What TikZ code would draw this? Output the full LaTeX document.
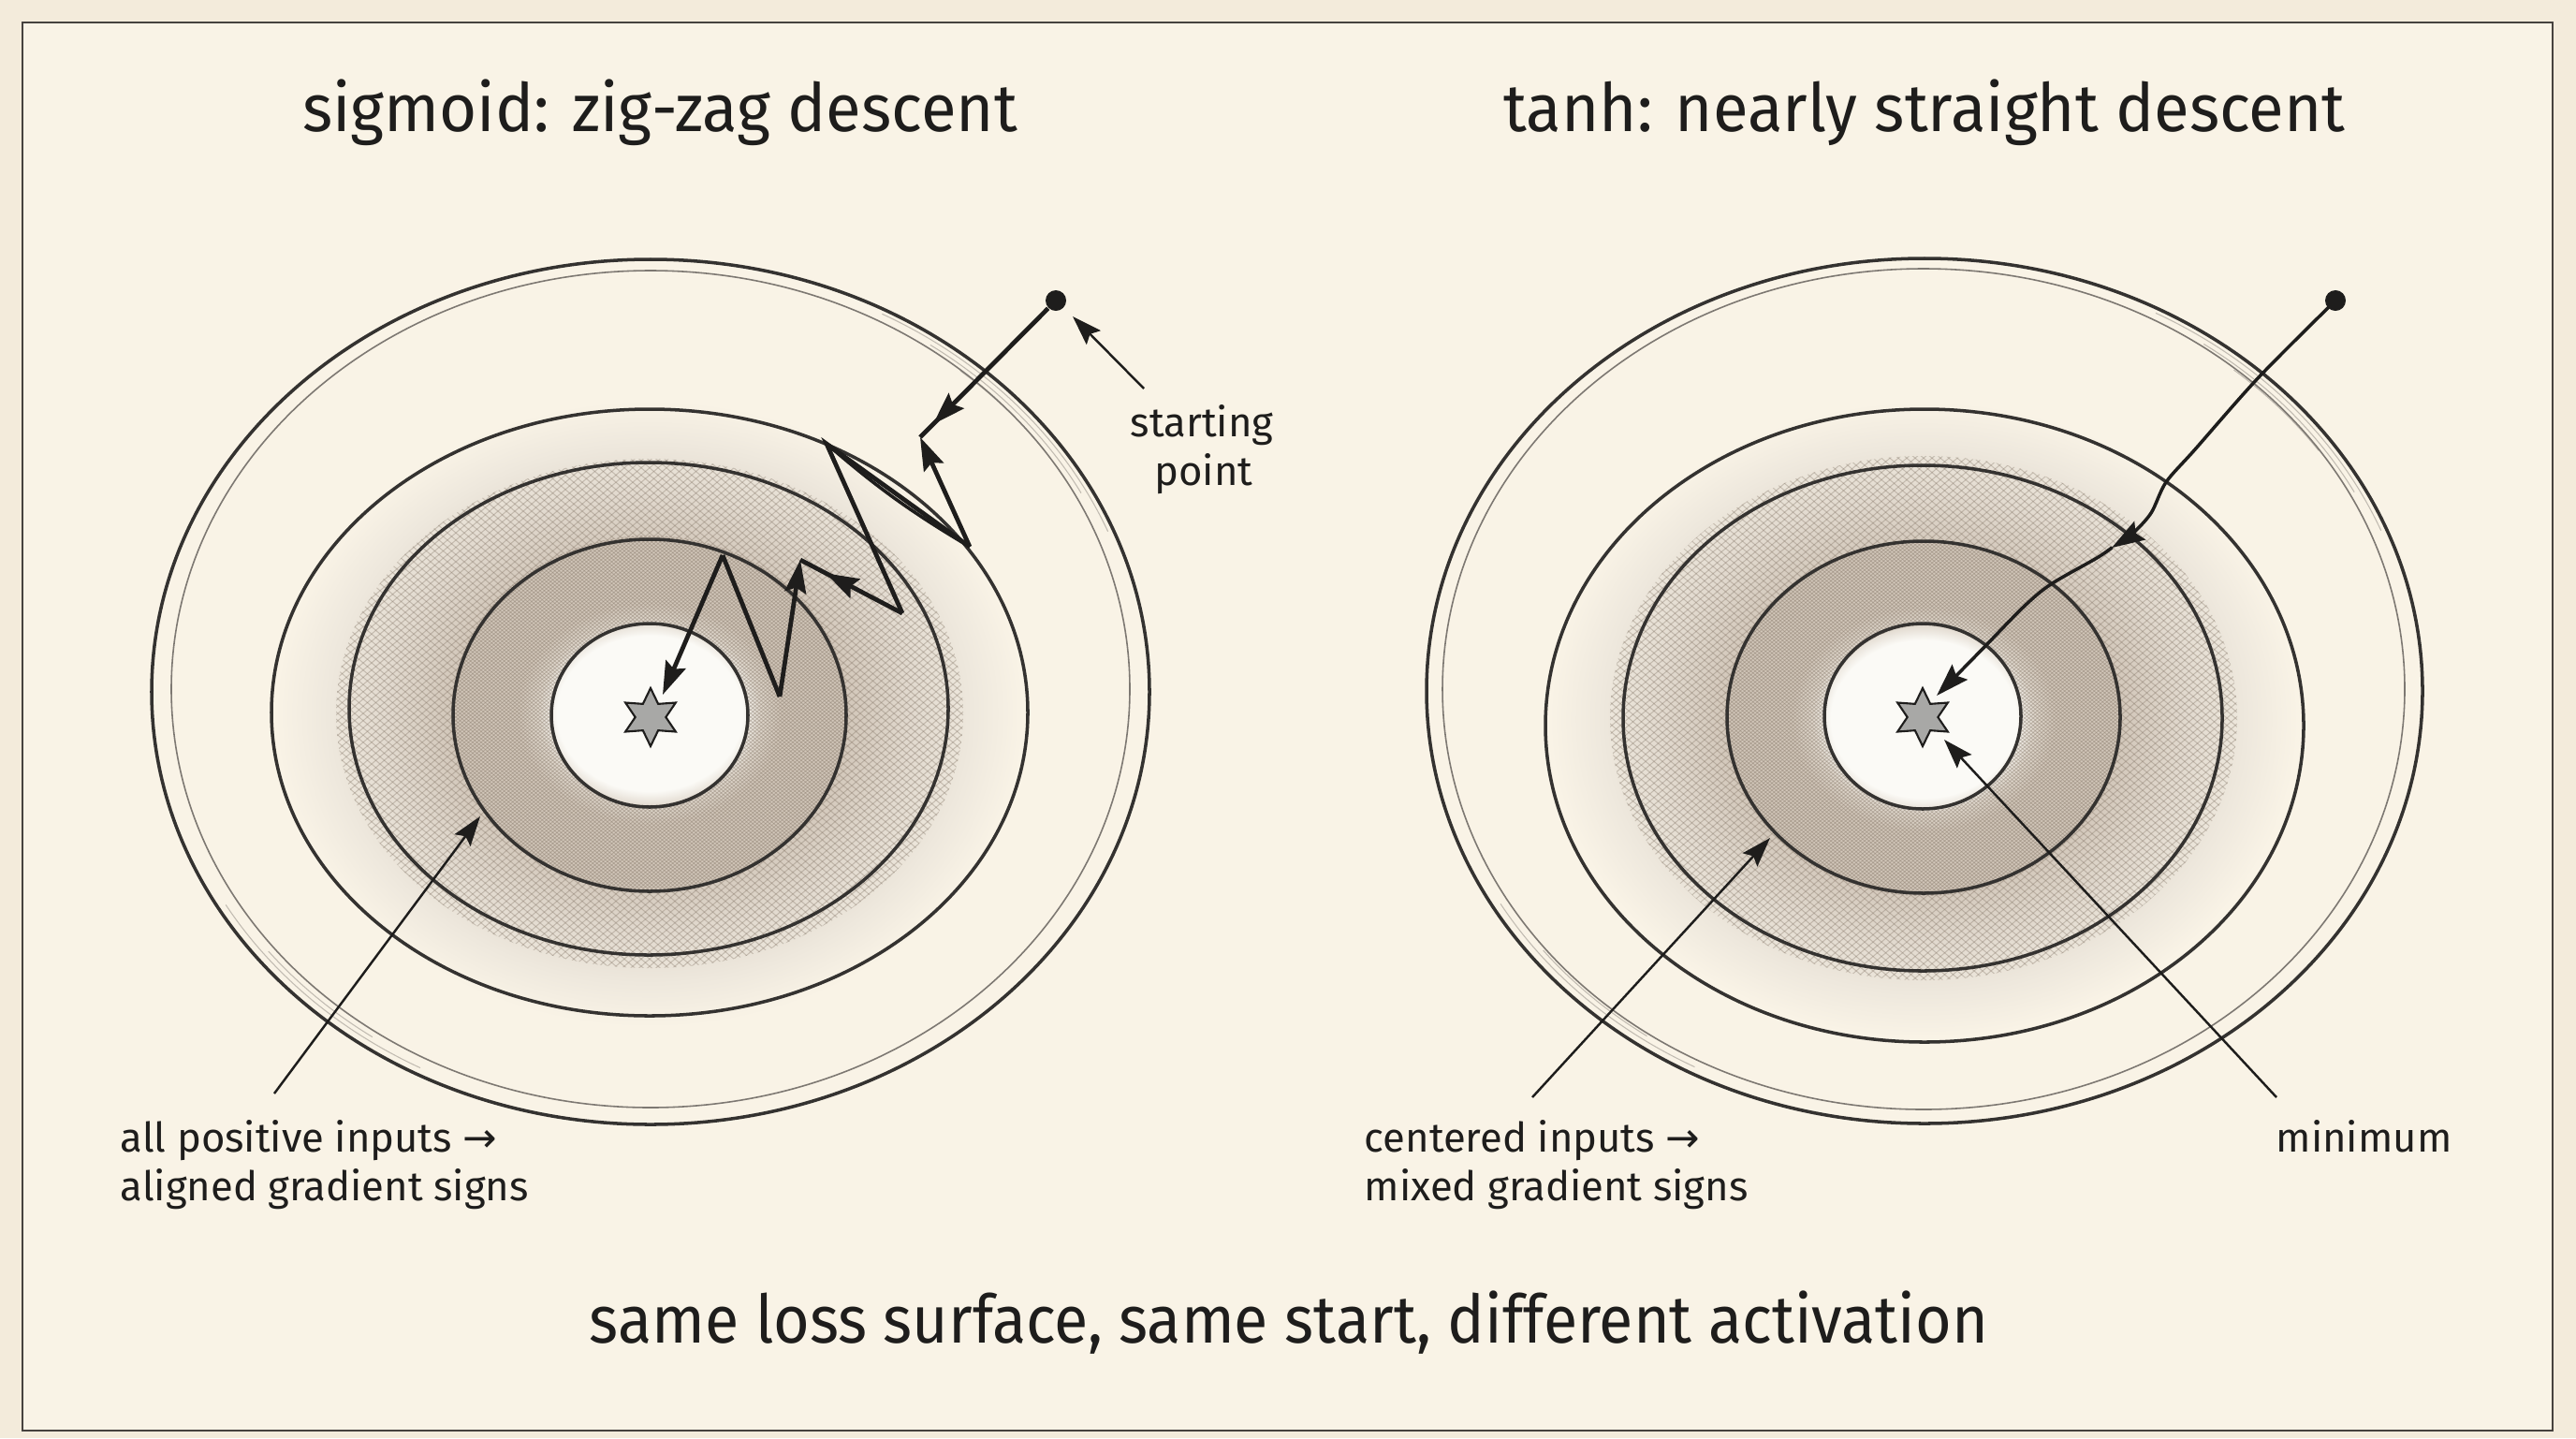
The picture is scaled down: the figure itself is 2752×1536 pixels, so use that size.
\documentclass[tikz,border=0pt]{standalone}
\usepackage{fontspec}
\setmainfont{Fira Sans}
\newfontfamily\titlefont[FakeStretch=0.965]{Fira Sans}
\newfontfamily\capfont[FakeStretch=0.93]{Fira Sans}
\newfontfamily\arrowfont{DejaVu Sans}
\usetikzlibrary{arrows.meta,shapes.geometric,decorations.markings}

\definecolor{paper}{RGB}{249,243,230}
\definecolor{paperout}{RGB}{243,235,219}
\definecolor{ink}{RGB}{30,29,28}
\definecolor{ringc}{RGB}{52,50,48}
\definecolor{thinring}{RGB}{125,120,114}
\definecolor{framec}{RGB}{70,66,62}
\definecolor{inwhite}{RGB}{251,250,246}
\definecolor{bowldark}{RGB}{211,200,187}
\definecolor{bowlmid}{RGB}{225,217,206}
\definecolor{bowllite}{RGB}{238,232,221}
\definecolor{hatchc}{RGB}{120,105,90}
\definecolor{stargray}{RGB}{168,168,166}

\pgfdeclareradialshading{bowlshade}{\pgfpoint{0bp}{0bp}}{color(0bp)=(inwhite); color(6.2bp)=(inwhite); color(7.4bp)=(bowlmid); color(8.8bp)=(bowldark); color(13.5bp)=(bowldark); color(17.5bp)=(bowlmid); color(21.5bp)=(bowllite); color(25bp)=(paper); color(50bp)=(paper)}

\tikzset{
  ring/.style={draw=ringc, line width=1.0pt},
  thinring/.style={draw=thinring, line width=0.45pt},
  faintarc/.style={draw=thinring, line width=0.3pt, opacity=0.45},
  hatchline/.style={draw=hatchc, line width=0.28pt, opacity=0.32},
  zig/.style={draw=ink, line width=1.35pt, line join=miter},
  zigtip/.style={-{Stealth[length=10pt,width=6.5pt,inset=1.5pt]}},
  smoothpath/.style={draw=ink, line width=1.0pt, line cap=round},
  annot/.style={draw=ink, line width=0.7pt, -{Stealth[length=9pt,width=6pt,inset=1.5pt]}},
  titletext/.style={font=\titlefont\fontsize{20.3}{24}\selectfont, text=ink, inner sep=0pt},
  captext/.style={font=\capfont\fontsize{20.3}{24}\selectfont, text=ink, inner sep=0pt},
  labeltext/.style={font=\fontsize{12.4}{14.8}\selectfont, text=ink, inner sep=0pt, align=left},
  minstar/.style={star, star points=6, star point ratio=1.9, minimum size=0.62cm, inner sep=0pt, fill=stargray, draw=ink, line width=0.6pt},
  startdot/.style={circle, fill=ink, minimum size=0.22cm, inner sep=0pt},
  midarrow/.style={postaction={decorate}, decoration={markings, mark=at position #1 with {\arrow{Stealth[length=10pt,width=6.5pt,inset=1.5pt]}}}}
}

\newcommand{\HatchRing}[7]{%
  \begin{scope}[even odd rule]
    \clip (#1,#2) ellipse [x radius=#5, y radius=#6] (#1,#2) ellipse [x radius=#3, y radius=#4];
    \foreach \k in {-75,...,75} {
      \draw[hatchline] (#1+\k*9+#7-420,#2-360) -- ++(840,720);
      \draw[hatchline] (#1+\k*9+#7+420,#2-360) -- ++(-840,720);
    }
  \end{scope}}

\newcommand{\FaintArcs}[4]{% cx cy rx ry
  \foreach \d/\a/\b in {6/-22/-62, 12/-28/-55, 18/-35/-50, 9/150/118, 15/142/125} {
    \draw[faintarc] ([shift={(#1,#2)}]\a:#3-\d*1.0 and #4-\d*0.8) arc[start angle=\a, end angle=\b, x radius=#3-\d*1.0, y radius=#4-\d*0.8];
  }}

\begin{document}
\begin{tikzpicture}[x=0.01cm, y=-0.01cm]
\useasboundingbox (0,0) rectangle (2752,1536);
\fill[paperout] (0,0) rectangle (2752,1536);
\fill[paper] (24,24) rectangle (2727,1528);
\draw[framec, line width=0.7pt] (24,24) rectangle (2727,1528);

% ---------- shading ----------
\shade[shading=bowlshade] (694,762) ellipse [x radius=400, y radius=335];
\shade[shading=bowlshade] (2055,768) ellipse [x radius=400, y radius=340];
\HatchRing{694}{762}{105}{98}{335}{272}{0}
\HatchRing{694}{762}{105}{98}{212}{190}{4.5}
\HatchRing{2055}{767}{105}{99}{335}{280}{0}
\HatchRing{2055}{767}{105}{99}{212}{190}{4.5}
\FaintArcs{695}{739}{533}{462}
\FaintArcs{2056}{738}{532}{462}

% ---------- left rings ----------
\draw[ring] (694,764) ellipse [x radius=105, y radius=98];
\draw[ring] (694,764) ellipse [x radius=210, y radius=188];
\draw[ring] (693,757) ellipse [x radius=320, y radius=263];
\draw[ring] (694,761) ellipse [x radius=404, y radius=324];
\draw[ring] (695,739) ellipse [x radius=533, y radius=462];
\draw[thinring] (695,736) ellipse [x radius=512, y radius=447];

% ---------- right rings ----------
\draw[ring] (2054,765) ellipse [x radius=105, y radius=99];
\draw[ring] (2055,766) ellipse [x radius=210, y radius=188];
\draw[ring] (2054,767) ellipse [x radius=320, y radius=270];
\draw[ring] (2056,775) ellipse [x radius=405, y radius=338];
\draw[ring] (2056,738) ellipse [x radius=532, y radius=462];
\draw[thinring] (2055,736) ellipse [x radius=514, y radius=449];

% ---------- titles ----------
\node[titletext, anchor=base] (titleL) at (705,140) {sigmoid: zig-zag descent};
\node[titletext, anchor=base] (titleR) at (2056,140) {tanh: nearly straight descent};
\node[captext, anchor=base] (caption) at (1377,1434) {same loss surface, same start, different activation};

% ---------- minima ----------
\node[minstar] (starL) at (695,766) {};
\node[minstar] (starR) at (2054,766) {};

% ---------- left zig-zag path ----------
\node[startdot] (dotL) at (1128,321) {};
\coordinate (zK) at (983,467);
\coordinate (zB) at (1036,584);
\coordinate (zA) at (883,474);
\coordinate (zC) at (964,655);
\coordinate (zD) at (855,598);
\coordinate (zE) at (833,744);
\coordinate (zF) at (772,593);
\coordinate (zG) at (708,742);
\draw[zig, midarrow=0.9] (dotL) -- (zK);
\draw[zig, zigtip] (zB) -- (zK);
\draw[zig] (zB) -- (zA) -- (zC);
\draw[zig, line width=1.0pt] (zA) to[bend right=5] (zB);
\draw[zig, midarrow=0.75] (zC) -- (zD);
\draw[zig, zigtip] (zE) -- (zD);
\draw[zig] (zE) -- (zF);
\draw[zig, zigtip] (zF) -- (zG);

% ---------- right smooth path ----------
\node[startdot] (dotR) at (2495,321) {};
\coordinate (r1) at (2413,403);
\coordinate (r2) at (2345,480);
\coordinate (r3) at (2314,515);
\coordinate (r4) at (2298,548);
\coordinate (r5) at (2278,570);
\coordinate (rM) at (2256,585);
\coordinate (r6) at (2240,596);
\coordinate (r7) at (2191,624);
\coordinate (r8) at (2162,648);
\coordinate (r9) at (2120,691);
\coordinate (rT) at (2069,743);
\draw[smoothpath, zigtip] plot[smooth, tension=0.5] coordinates {(dotR) (r1) (r2) (r3) (r4) (r5) (rM)};
\draw[smoothpath, zigtip] plot[smooth, tension=0.5] coordinates {(rM) (r6) (r7) (r8) (r9) (rT)};

% ---------- labels ----------
\node[labeltext, anchor=base] (lblStart) at (1284,466) {starting};
\node[labeltext, anchor=base] (lblStart2) at (1286,518) {point};
\coordinate (startT) at (1222,415);
\coordinate (startH) at (1146,338);
\draw[annot] (startT) -- (startH);

\node[labeltext, anchor=base west] (lblAll) at (128,1230) {all positive inputs {\arrowfont →}};
\node[labeltext, anchor=base west] (lblAll2) at (128,1282) {aligned gradient signs};
\coordinate (allT) at (293,1168);
\coordinate (allH) at (513,872);
\draw[annot] (allT) -- (allH);

\node[labeltext, anchor=base west] (lblCent) at (1457,1230) {centered inputs {\arrowfont →}};
\node[labeltext, anchor=base west] (lblCent2) at (1457,1282) {mixed gradient signs};
\coordinate (centT) at (1637,1172);
\coordinate (centH) at (1891,895);
\draw[annot] (centT) -- (centH);

\node[labeltext, anchor=base west] (lblMin) at (2431,1230) {minimum};
\coordinate (minT) at (2432,1172);
\coordinate (minH) at (2077,790);
\draw[annot] (minT) -- (minH);
\end{tikzpicture}
\end{document}
